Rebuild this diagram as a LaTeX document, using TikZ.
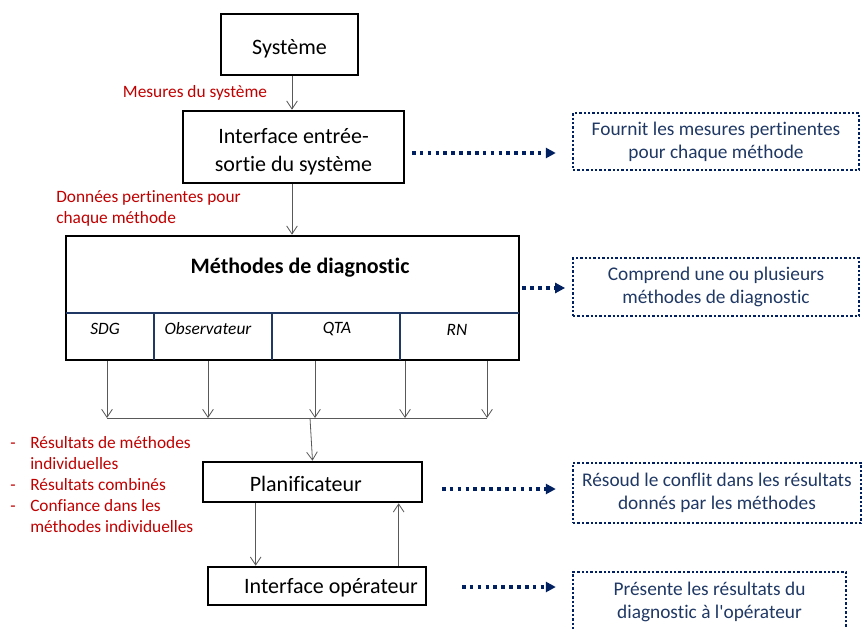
\documentclass[tikz,border=0pt]{standalone}
\usepackage{fontspec}
\setmainfont{Carlito}[Ligatures=NoCommon]
\usetikzlibrary{arrows.meta}
\definecolor{darkred}{RGB}{192,0,0}
\definecolor{navy}{RGB}{31,56,100}
\definecolor{dotnavy}{RGB}{0,32,96}
\definecolor{arrowgray}{RGB}{89,89,89}
% lower a box text without changing its size
\newcommand{\lowtext}[2]{\raisebox{-#1}[\height][\depth]{#2}}

\begin{document}
\begin{tikzpicture}[x=0.75pt, y=-0.75pt,
  box/.style={draw=black, line width=2pt, fill=white, align=center, inner sep=0pt,
    font=\fontsize{16.5}{21}\selectfont},
  dotbox/.style={draw=dotnavy, line width=1.8pt, dash pattern=on 1.8pt off 1.5pt,
    text=navy, align=center, inner sep=0pt, font=\fontsize{14.5}{17.25}\selectfont},
  redtxt/.style={text=darkred, inner sep=0pt, font=\fontsize{13}{15.75}\selectfont},
  methlabel/.style={font=\fontsize{13}{15}\selectfont\itshape},
  flow/.style={draw=arrowgray, line width=0.6pt, -{Straight Barb[length=6pt,width=8pt]}},
  dotflow/.style={draw=dotnavy, line width=2.7pt, dash pattern=on 2.7pt off 3.2pt,
    -{Triangle[length=7.5pt,width=7.5pt]}}]
\useasboundingbox (0,0) rectangle (863,628);

% main chain
\node[box, minimum width=102.75pt, minimum height=45.75pt] (sys) at (289.5,44.5) {\lowtext{3pt}{Système}};
\node[box, minimum width=165.75pt, minimum height=54pt] (ies) at (293.5,147)
  {\lowtext{4pt}{\begin{tabular}{@{}c@{}}Interface entrée-\\sortie du système\end{tabular}}};
\node[box, minimum width=339.75pt, minimum height=93pt] (meth) at (292.5,298) {};
\node[box, minimum width=164.25pt, minimum height=30pt] (plan) at (312.5,482) {\lowtext{1.5pt}{Planificateur}\hspace*{10pt}};
\node[box, minimum width=163.5pt, minimum height=28.5pt] (op) at (317,586) {\hspace*{21pt}\lowtext{1.5pt}{Interface opérateur}};

% methods box
\node[font=\fontsize{16.5}{20}\selectfont\bfseries] (title) at (300,268) {Méthodes de diagnostic};
\draw[navy, line width=1.5pt] (66,313) -- (519,313);
\foreach \x in {154,272,400}
  \draw[navy, line width=1.5pt] (\x,313) -- (\x,360);
\node[methlabel] (sdg) at (105,329) {SDG};
\node[methlabel] (obs) at (208,329) {Observateur};
\node[methlabel] (qta) at (337,329) {QTA};
\node[methlabel] (rn) at (457,330) {RN};

% notes
\node[dotbox, minimum width=214.5pt, minimum height=42.75pt] (note1) at (716,141.5) {Fournit les mesures pertinentes\\pour chaque méthode};
\node[dotbox, minimum width=214.5pt, minimum height=43.5pt] (note2) at (716,287) {Comprend une ou plusieurs\\méthodes de diagnostic};
\node[dotbox, minimum width=216pt, minimum height=45pt] (note3) at (717,493) {Résoud le conflit dans les résultats\\donnés par les méthodes};
\node[dotbox, minimum width=204.75pt, minimum height=44.25pt] (note4) at (709.5,601.5) {Présente les résultats du\\diagnostic à l\textquotesingle opérateur};

% red labels
\node[redtxt] (mes) at (195,93) {Mesures du système};
\node[redtxt, anchor=west, align=left] (don) at (56,208.5) {Données pertinentes pour\\chaque méthode};
\node[redtxt, anchor=west, align=left] (res) at (10,485) {%
  \makebox[15pt][l]{-}Résultats de méthodes\\
  \hspace*{15pt}individuelles\\
  \makebox[15pt][l]{-}Résultats combinés\\
  \makebox[15pt][l]{-}Confiance dans les\\
  \hspace*{15pt}méthodes individuelles};

% connectors
\draw[flow] (sys.south -| 292,0) -- (ies.north -| 292,0);
\draw[flow] (ies.south -| 292,0) -- (meth.north -| 292,0);
\foreach \x in {107,208,315,405,487} {
  \coordinate (c\x) at (\x,418);
  \draw[flow] (c\x |- meth.south) -- (c\x);
}
\draw[arrowgray, line width=0.6pt] (c107) -- (c487);
\coordinate (join) at (310,418);
\draw[flow] (join) -- (plan.north);
\draw[flow] ([xshift=40.5pt]plan.south west) -- ([xshift=36.75pt]op.north west);
\draw[flow] ([xshift=144pt]op.north west) -- ([xshift=147.75pt]plan.south west);

% dotted arrows
\draw[dotflow, shorten <=5pt, shorten >=12pt] ([yshift=-4.5pt]ies.east) -- ([yshift=-4.5pt]ies.east -| note1.west);
\draw[dotflow, shorten <=1.5pt, shorten >=5pt] ([yshift=7.5pt]meth.east) -- ([yshift=7.5pt]meth.east -| note2.west);
\draw[dotflow, shorten <=14pt, shorten >=12pt] ([yshift=-5.25pt]plan.east) -- ([yshift=-5.25pt]plan.east -| note3.west);
\draw[dotflow, shorten <=26pt, shorten >=12pt] ([yshift=-0.75pt]op.east) -- ([yshift=-0.75pt]op.east -| note4.west);
\end{tikzpicture}
\end{document}
